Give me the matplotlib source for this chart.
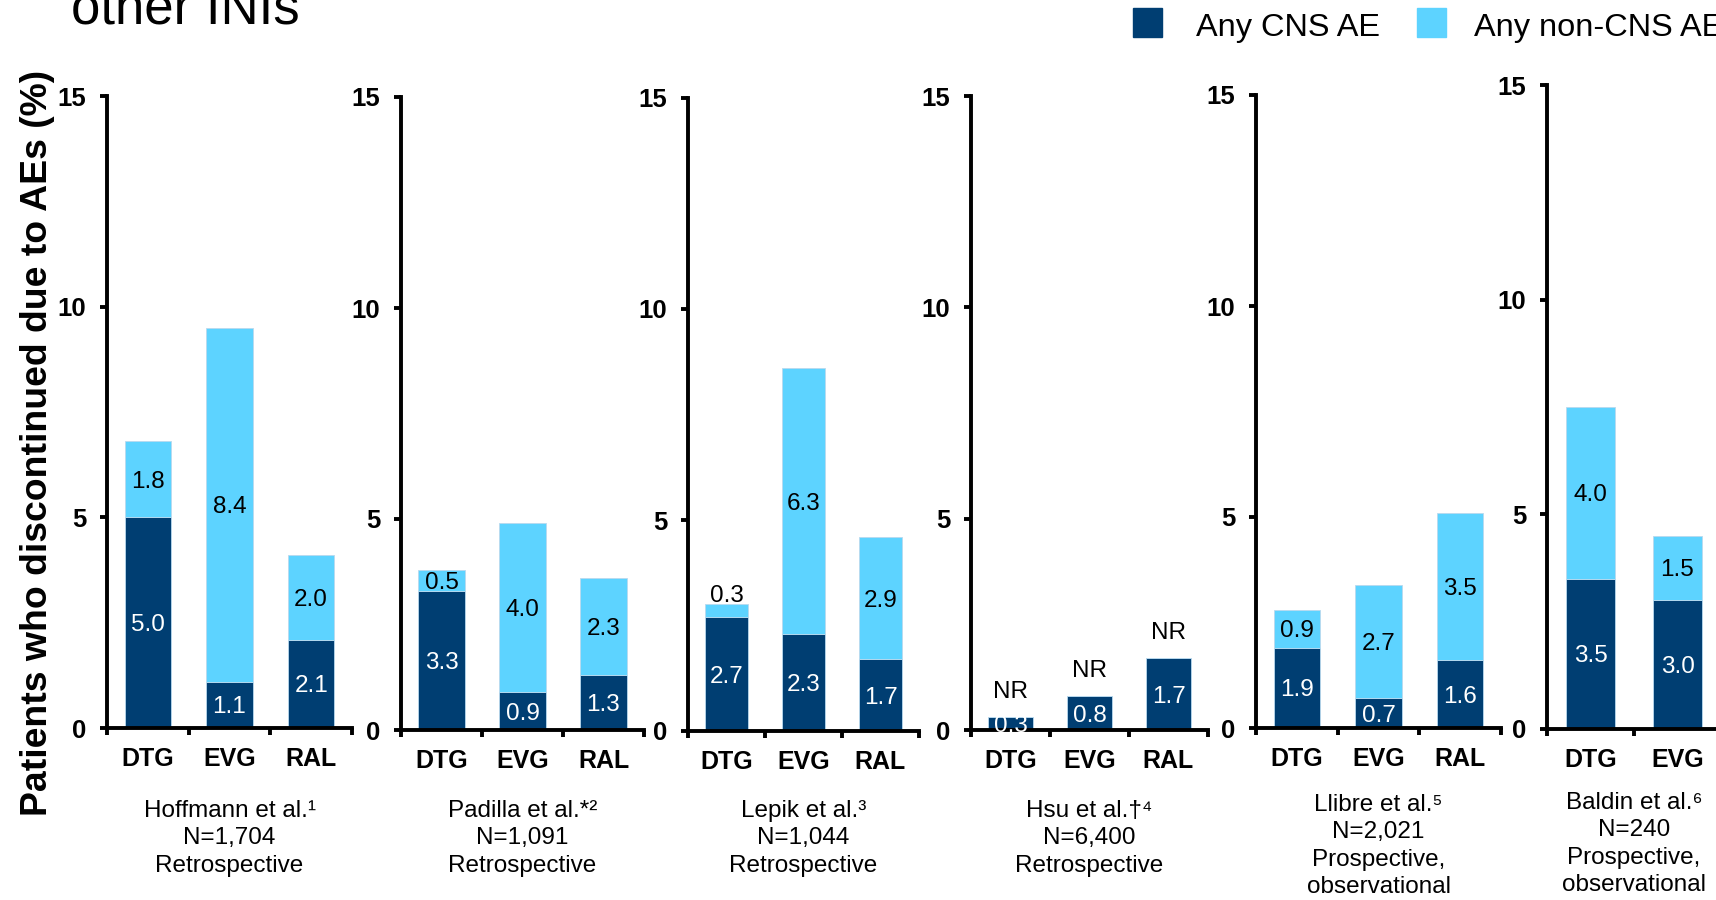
import matplotlib.pyplot as plt
from matplotlib.patches import Rectangle

plt.rcParams["font.family"] = ["Liberation Sans", "DejaVu Sans"]

# %% Datos
ESTUDIOS = ["Hoffmann et al.¹", "Padilla et al.*²", "Lepik et al.³",
            "Hsu et al.†⁴", "Llibre et al.⁵", "Baldin et al.⁶"]
N_PACIENTES = ["N=1,704", "N=1,091", "N=1,044", "N=6,400", "N=2,021", "N=240"]
DISENO = ["Retrospective", "Retrospective", "Retrospective", "Retrospective",
          "Prospective,\nobservational", "Prospective,\nobservational"]
FARMACOS = [["DTG", "EVG", "RAL"]] * 5 + [["DTG", "EVG"]]
CNS = [[5.0, 1.1, 2.1], [3.3, 0.9, 1.3], [2.7, 2.3, 1.7],
       [0.3, 0.8, 1.7], [1.9, 0.7, 1.6], [3.5, 3.0]]
NO_CNS = [[1.8, 8.4, 2.0], [0.5, 4.0, 2.3], [0.3, 6.3, 2.9],
          [None, None, None], [0.9, 2.7, 3.5], [4.0, 1.5]]
YTICKS = [0, 5, 10, 15]

# %% Layout (pixeles de la figura 1716x900)
W, H = 1716, 900
IZQ = [107, 401, 688, 971, 1256, 1547]
ANCHO = [245, 243, 231, 237, 245, 174]
CERO = [728, 730, 731, 730, 728, 729]
TOPE = [96, 97, 98, 96, 95, 85]
CAPTION_TOP = [800, 800, 800, 800, 794, 792]

OSCURO = "#003E72"
CLARO = "#5DD3FF"
FS = 17.5
LW = 2.8

fig = plt.figure(figsize=(W / 100, H / 100), dpi=100)

for i in range(len(ESTUDIOS)):
    ax = fig.add_axes([IZQ[i] / W, (H - CERO[i]) / H,
                       ANCHO[i] / W, (CERO[i] - TOPE[i]) / H])
    x = list(range(len(FARMACOS[i])))
    cns = CNS[i]
    otros = [v if v is not None else 0 for v in NO_CNS[i]]
    ax.bar(x, cns, width=0.57, color=OSCURO, edgecolor="#b9d9ee", linewidth=0.6, zorder=2)
    ax.bar(x, otros, bottom=cns, width=0.57, color=CLARO, edgecolor="#b9d9ee",
           linewidth=0.6, zorder=2)

    for xi, c, o in zip(x, cns, NO_CNS[i]):
        ax.text(xi, c / 2, f"{c:.1f}", ha="center", va="center_baseline",
                color="white", fontsize=FS, zorder=5, clip_on=False)
        if o is None:
            ax.annotate("NR", (xi, c), xytext=(0, 14), textcoords="offset points",
                        ha="center", va="baseline", fontsize=FS)
        elif o < 0.4:
            ax.annotate(f"{o:.1f}", (xi, c + o), xytext=(0, 1.5),
                        textcoords="offset points", ha="center", va="baseline",
                        fontsize=FS)
        else:
            ax.text(xi, c + o / 2, f"{o:.1f}", ha="center", va="center_baseline",
                    color="black", fontsize=FS, zorder=5)

    ax.set_xlim(-0.5, len(x) - 0.5)
    ax.set_ylim(0, 15)
    ax.set_yticks(YTICKS)
    ax.set_yticklabels([str(t) for t in YTICKS], fontweight="bold", fontsize=18.5)
    ax.set_xticks(x)
    ax.set_xticklabels(FARMACOS[i], fontweight="bold", fontsize=18)
    ax.set_xticks([k - 0.5 for k in range(len(x) + 1)], minor=True)
    ax.tick_params(axis="x", which="major", length=0, pad=14)
    ax.tick_params(axis="x", which="minor", length=5, width=LW, direction="out")
    ax.tick_params(axis="y", length=5, width=LW, direction="out", pad=10)
    for lado in ["top", "right"]:
        ax.spines[lado].set_visible(False)
    for lado in ["left", "bottom"]:
        ax.spines[lado].set_linewidth(LW)
    ax.patch.set_alpha(0)

    fig.text((IZQ[i] + ANCHO[i] / 2) / W, 1 - CAPTION_TOP[i] / H,
             f"{ESTUDIOS[i]}\n{N_PACIENTES[i]}\n{DISENO[i]}",
             ha="center", va="top", fontsize=17.5, linespacing=1.31)

# Eje Y compartido, titulo y leyenda
fig.text(38 / W, 1 - 443 / H, "Patients who discontinued due to AEs (%)",
         rotation=90, ha="center", va="center", fontsize=26.9, fontweight="bold")
fig.text(71 / W, 1 - 23 / H, "other INIs", ha="left", va="baseline", fontsize=38)

for x0, color, etiqueta, xt in [(1133, OSCURO, "Any CNS AE", 1196),
                                (1417, CLARO, "Any non-CNS AE", 1474)]:
    fig.patches.append(Rectangle((x0 / W, 1 - 37 / H), 29 / W, 29 / H,
                                 transform=fig.transFigure, color=color))
    fig.text(xt / W, 1 - 36 / H, etiqueta, ha="left", va="baseline", fontsize=23.4)

fig.savefig("out.png", dpi=100)
plt.close()
